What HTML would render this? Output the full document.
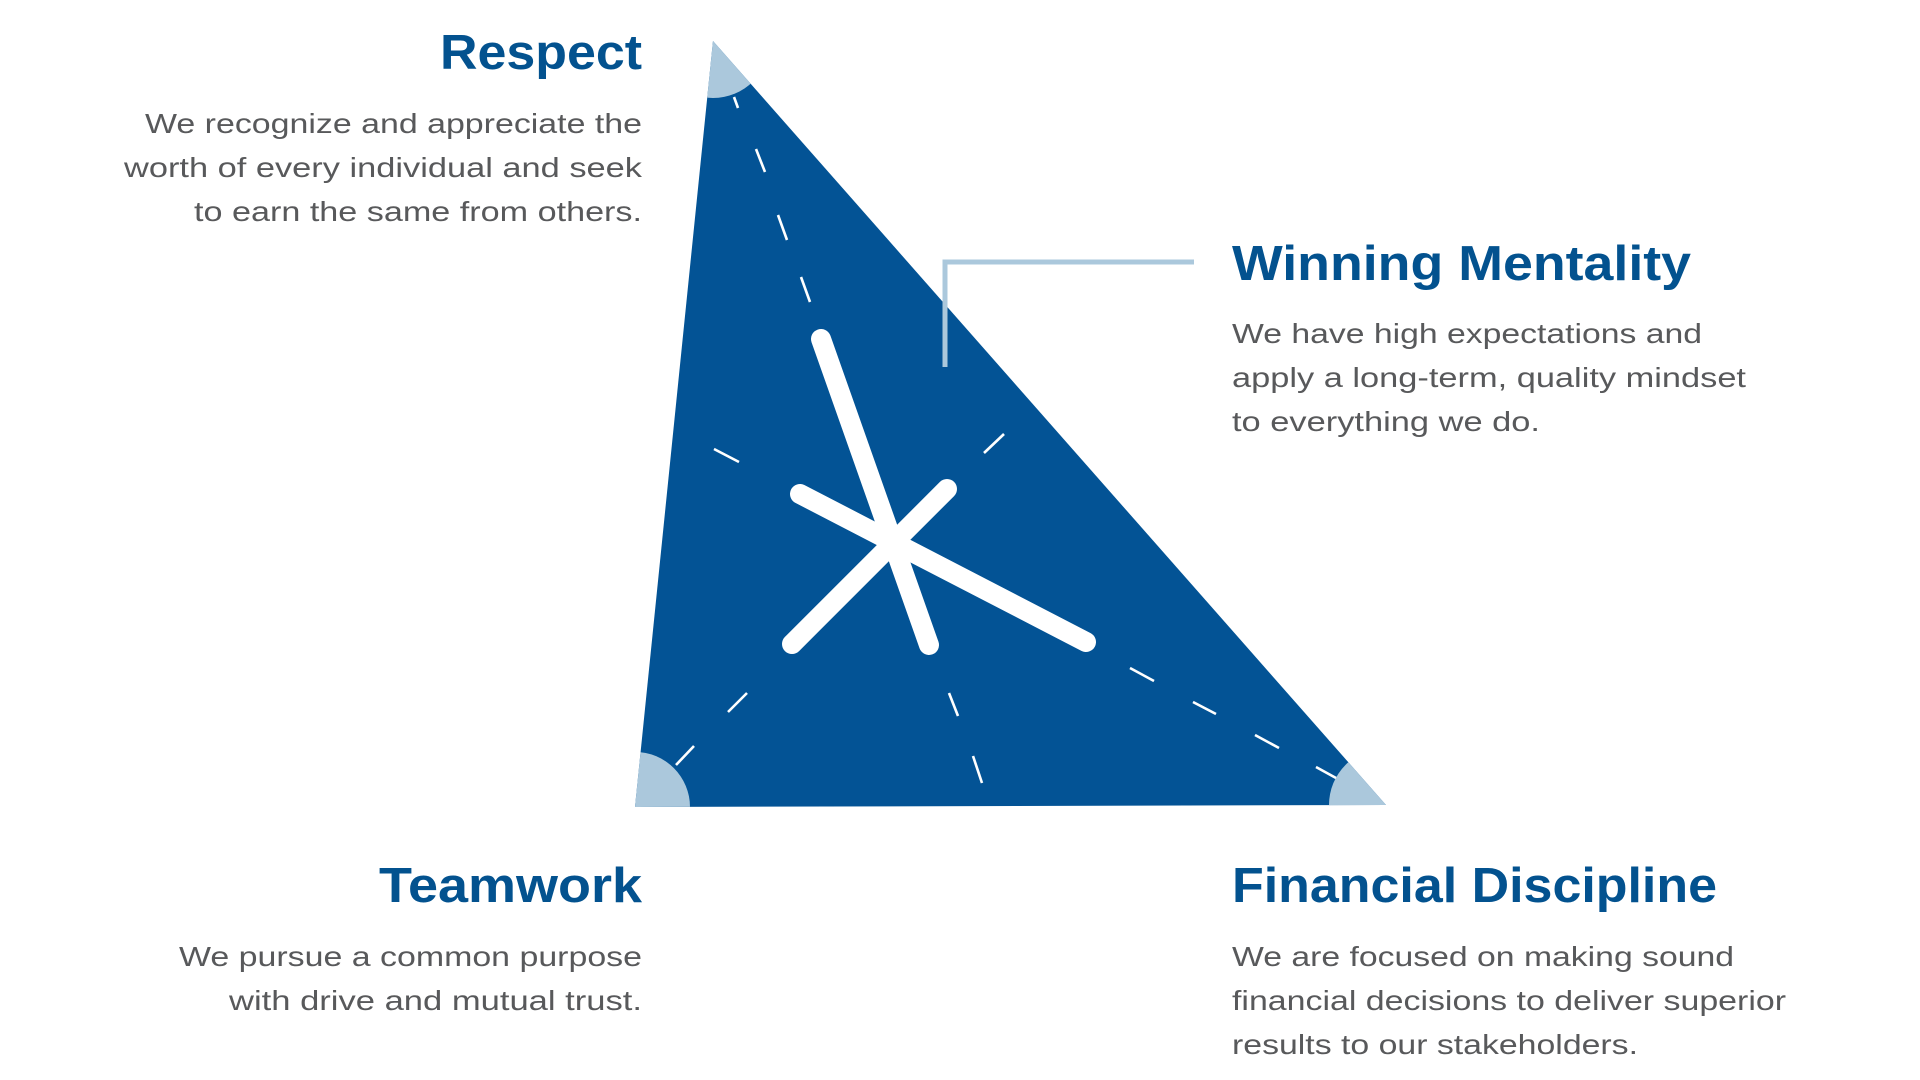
<!DOCTYPE html>
<html><head><meta charset="utf-8"><style>
html,body{margin:0;padding:0;background:#fff;width:1920px;height:1080px;overflow:hidden}
svg{display:block}
.h{font-family:"Liberation Sans",sans-serif;font-weight:bold;font-size:49px;fill:#03528f}
.b{font-family:"Liberation Sans",sans-serif;font-size:28px;fill:#58595b}
</style></head><body>
<svg width="1920" height="1080" viewBox="0 0 1920 1080" xmlns="http://www.w3.org/2000/svg">
<defs>
<clipPath id="tri"><polygon points="713,41 635,807 1386,805"/></clipPath>
</defs>
<polygon points="713,41 635,807 1386,805" fill="#035395"/>
<g clip-path="url(#tri)" fill="#abc8dc">
<circle cx="713" cy="41" r="57"/>
<circle cx="635" cy="807" r="55"/>
<circle cx="1386" cy="805" r="57"/>
</g>
<g stroke="#fff" stroke-width="2.6" fill="none">
<line x1="734" y1="97" x2="738" y2="108"/>
<line x1="756" y1="149" x2="765" y2="172"/>
<line x1="778" y1="215" x2="787" y2="240"/>
<line x1="801" y1="277" x2="810" y2="302"/>
<line x1="949" y1="693" x2="958" y2="716"/>
<line x1="973" y1="756" x2="982" y2="783"/>
<line x1="676" y1="765" x2="694" y2="746"/>
<line x1="728" y1="712" x2="747" y2="693"/>
<line x1="984" y1="453" x2="1004" y2="434"/>
<line x1="714" y1="449" x2="739" y2="462"/>
<line x1="1130" y1="668" x2="1154" y2="681"/>
<line x1="1193" y1="702" x2="1216" y2="714"/>
<line x1="1255" y1="735" x2="1279" y2="748"/>
<line x1="1316" y1="767" x2="1336" y2="778"/>
</g>
<g stroke="#fff" stroke-width="20" stroke-linecap="round" fill="none">
<line x1="821" y1="339" x2="929" y2="645"/>
<line x1="800" y1="494" x2="1086" y2="642"/>
<line x1="947" y1="489" x2="792" y2="644"/>
</g>
<polyline points="1194,262 945,262 945,367" fill="none" stroke="#abc8dc" stroke-width="5"/>

<text class="h" x="642" y="69" text-anchor="end" textLength="202" lengthAdjust="spacingAndGlyphs">Respect</text>
<text class="b" x="642" y="133" text-anchor="end" textLength="497" lengthAdjust="spacingAndGlyphs">We recognize and appreciate the</text>
<text class="b" x="642" y="177" text-anchor="end" textLength="518" lengthAdjust="spacingAndGlyphs">worth of every individual and seek</text>
<text class="b" x="642" y="221" text-anchor="end" textLength="448" lengthAdjust="spacingAndGlyphs">to earn the same from others.</text>

<text class="h" x="1232" y="280" textLength="459" lengthAdjust="spacingAndGlyphs">Winning Mentality</text>
<text class="b" x="1232" y="343" textLength="470" lengthAdjust="spacingAndGlyphs">We have high expectations and</text>
<text class="b" x="1232" y="387" textLength="514" lengthAdjust="spacingAndGlyphs">apply a long-term, quality mindset</text>
<text class="b" x="1232" y="431" textLength="308" lengthAdjust="spacingAndGlyphs">to everything we do.</text>

<text class="h" x="642" y="902" text-anchor="end" textLength="263" lengthAdjust="spacingAndGlyphs">Teamwork</text>
<text class="b" x="642" y="966" text-anchor="end" textLength="463" lengthAdjust="spacingAndGlyphs">We pursue a common purpose</text>
<text class="b" x="642" y="1010" text-anchor="end" textLength="413" lengthAdjust="spacingAndGlyphs">with drive and mutual trust.</text>

<text class="h" x="1232" y="902" textLength="485" lengthAdjust="spacingAndGlyphs">Financial Discipline</text>
<text class="b" x="1232" y="966" textLength="502" lengthAdjust="spacingAndGlyphs">We are focused on making sound</text>
<text class="b" x="1232" y="1010" textLength="554" lengthAdjust="spacingAndGlyphs">financial decisions to deliver superior</text>
<text class="b" x="1232" y="1054" textLength="406" lengthAdjust="spacingAndGlyphs">results to our stakeholders.</text>
</svg>
</body></html>
